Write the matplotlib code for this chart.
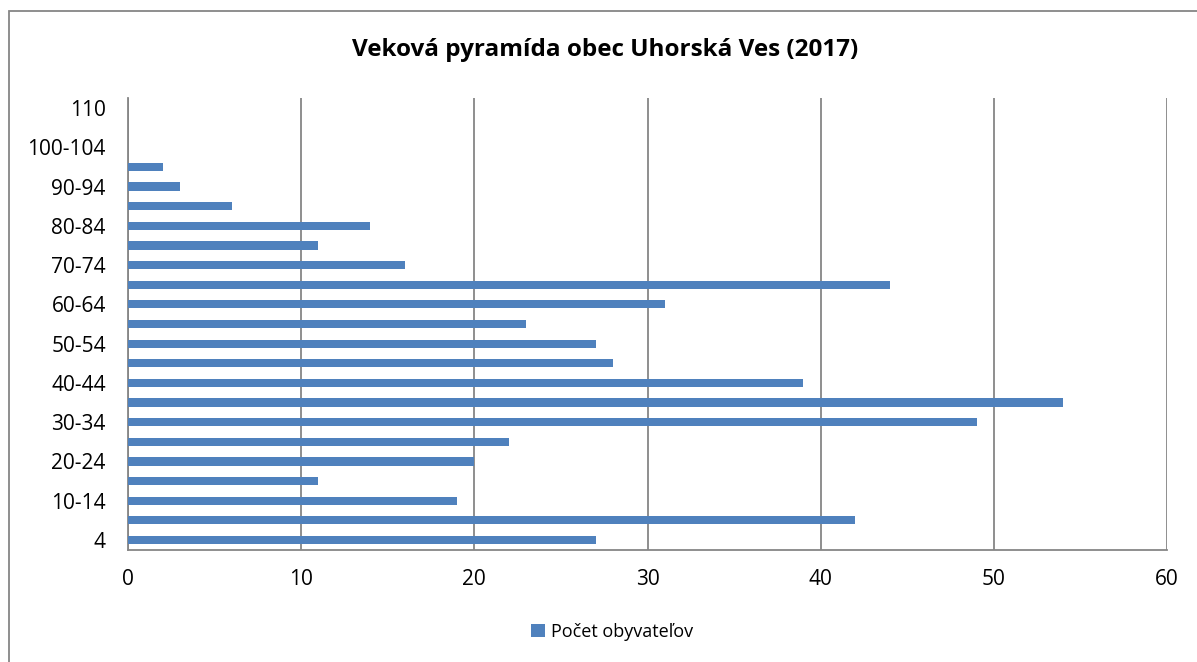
"""
Age pyramid for Uhorská Ves (2017), drawn as a single-series horizontal bar chart.
"""

import matplotlib
matplotlib.use("Agg")
import matplotlib.pyplot as plt
from matplotlib.patches import Rectangle

# Age groups, bottom to top
age_groups = ["4", "5-9", "10-14", "15-19", "20-24", "25-29", "30-34", "35-39",
              "40-44", "45-49", "50-54", "55-59", "60-64", "65-69", "70-74",
              "75-79", "80-84", "85-89", "90-94", "95-99", "100-104",
              "105-109", "110"]
population = [27, 42, 19, 11, 20, 22, 49, 54, 39, 28, 27, 23, 31, 44, 16,
              11, 14, 6, 3, 2, 0, 0, 0]
x_ticks = [0, 10, 20, 30, 40, 50, 60]

title = "Veková pyramída obec Uhorská Ves (2017)"
series_label = "Počet obyvateľov"

plt.rcParams["font.family"] = ["Open Sans", "DejaVu Sans"]

W, H = 1197, 662
fig = plt.figure(figsize=(W / 100, H / 100), dpi=100)
ax = fig.add_axes([128 / W, 1 - 549.8 / H, (1167 - 128) / W, (549.8 - 98.2) / H])

ypos = list(range(len(age_groups)))
ax.barh(ypos, population, height=0.42, color="#4F81BD", label=series_label, zorder=3)

ax.set_xlim(0, 60)
ax.set_ylim(-0.5, len(age_groups) - 0.5)
ax.set_xticks(x_ticks)
ax.set_xticklabels([str(t) for t in x_ticks], fontsize=15)
ax.set_yticks(ypos[::2])
ax.set_yticklabels(age_groups[::2], fontsize=15)
ax.tick_params(axis="x", length=0, pad=14)
ax.tick_params(axis="y", length=0, pad=16)
ax.xaxis.grid(True, color="#868686", linewidth=1.3, zorder=0)

for side in ["top", "right"]:
    ax.spines[side].set_visible(False)
for side in ["left", "bottom"]:
    ax.spines[side].set_color("#868686")
    ax.spines[side].set_linewidth(1.3)

fig.text(605 / W, 1 - 50 / H, title, ha="center", va="center",
         fontsize=17.5, fontweight="bold")

fig.legend(loc="center", bbox_to_anchor=(612 / W, 1 - 632 / H), frameon=False,
           fontsize=13, handlelength=0.75, handleheight=0.75, handletextpad=0.35)

# outer chart frame
fig.patches.append(Rectangle((9 / W, -0.1), 1.2, 1 - 11 / H + 0.1,
                             transform=fig.transFigure, fill=False,
                             edgecolor="#868686", linewidth=1.3))

fig.savefig("out.png", dpi=100)
